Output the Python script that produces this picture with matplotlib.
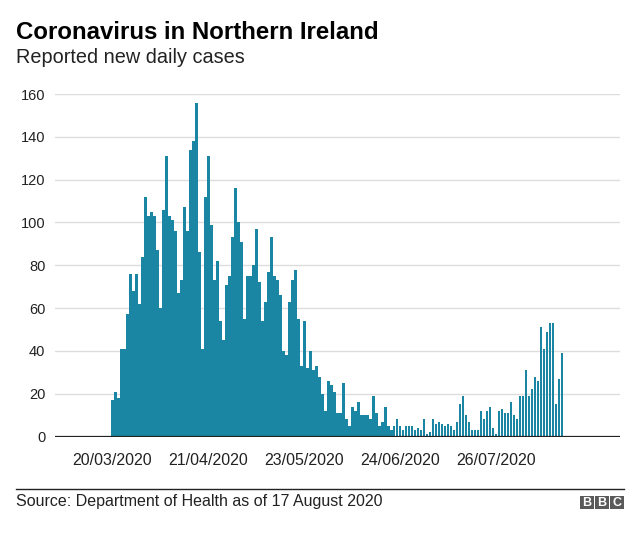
import pandas as pd
import matplotlib.pyplot as plt
from matplotlib.patches import Rectangle

plt.rcParams['font.family'] = ['Liberation Sans', 'DejaVu Sans']

# daily reported cases, 20/03/2020 to 17/08/2020
cases = [
    17, 21, 18, 41, 41, 57, 76, 68, 76, 62, 84, 112, 103, 105, 103, 87, 60, 106,
    131, 103, 101, 96, 67, 73, 107, 96, 134, 138, 156, 86, 41, 112, 131, 99, 73, 82, 54,
    45, 71, 75, 93, 116, 100, 91, 55, 75, 75, 80, 97, 72, 54, 63, 77, 93, 75, 73, 66,
    40, 38, 63, 73, 78, 55, 33, 54, 32, 40, 31, 33, 28, 20, 12, 26, 24, 21, 11, 11, 25, 8, 5,
    14, 12, 16, 10, 10, 10, 8, 19, 11, 5, 7, 14, 5, 3, 5, 8,
    5, 3, 5, 5, 5, 3, 4, 3, 8, 1, 2, 8, 6, 7, 6, 5, 6, 5, 3, 7, 15, 19, 10,
    7, 3, 3, 3, 12, 8, 12, 14, 4, 1, 12, 13, 11, 11, 16, 10, 8,
    19, 19, 31, 19, 22, 28, 26, 51, 41, 49, 53, 53, 15, 27, 39,
]
dates = pd.date_range('2020-03-20', periods=len(cases), freq='D')
tick_labels = ['20/03/2020', '21/04/2020', '23/05/2020', '24/06/2020', '26/07/2020']
y_ticks = [0, 20, 40, 60, 80, 100, 120, 140, 160]

days = list(range(len(cases)))
tick_pos = [days[list(dates.strftime('%d/%m/%Y')).index(t)] for t in tick_labels]

fig = plt.figure(figsize=(6.4, 5.34), dpi=100)
ax = fig.add_axes([55 / 640, 1 - 436.5 / 534, 565 / 640, 342.5 / 534])

ax.bar(days, cases, width=0.88, color='#1a86a4', zorder=2)
ax.axhline(0, color='#222222', lw=1.6, zorder=3)

ax.set_xlim(-19.1, 169.3)
ax.set_ylim(0, 160)
ax.set_yticks(y_ticks)
ax.set_xticks(tick_pos)
ax.set_xticklabels(tick_labels)
ax.yaxis.grid(True, color='#dddddd', lw=1, zorder=0)
ax.set_axisbelow(True)
for s in ax.spines.values():
    s.set_visible(False)
ax.tick_params(axis='y', length=0, pad=7, labelsize=10.5, labelcolor='#222222')
ax.tick_params(axis='x', length=0, pad=12, labelsize=11.5, labelcolor='#222222')

fig.text(16 / 640, 1 - 39 / 534, 'Coronavirus in Northern Ireland',
         fontsize=17.3, fontweight='bold', color='#000000', va='baseline')
fig.text(16 / 640, 1 - 63 / 534, 'Reported new daily cases',
         fontsize=14.3, color='#222222', va='baseline')

fig.add_artist(plt.Line2D([16 / 640, 624 / 640], [1 - 489 / 534, 1 - 489 / 534],
                          color='#222222', lw=1))
fig.text(16 / 640, 1 - 506 / 534, 'Source: Department of Health as of 17 August 2020',
         fontsize=11.5, color='#222222', va='baseline')

for i, letter in enumerate('BBC'):
    x0 = 580 + i * 15
    fig.add_artist(Rectangle((x0 / 640, 1 - 509 / 534), 13.5 / 640, 13.5 / 534,
                             transform=fig.transFigure, color='#5a5a5a', lw=0))
    fig.text((x0 + 6.75) / 640, 1 - 502.5 / 534, letter, fontsize=9, fontweight='bold',
             color='white', ha='center', va='center')

fig.savefig('out.png', dpi=100)
